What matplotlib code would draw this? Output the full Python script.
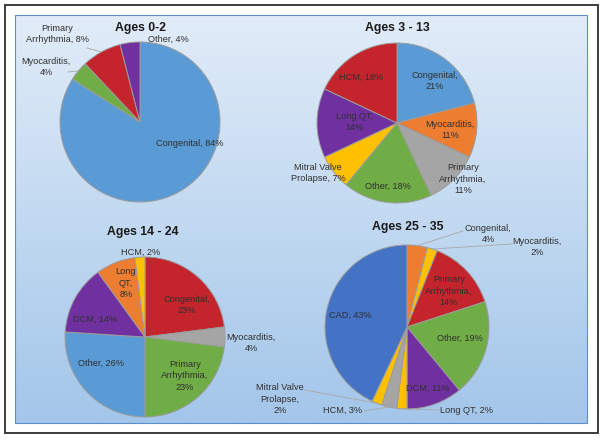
import textwrap
import numpy as np
import matplotlib.pyplot as plt
from matplotlib.patches import Rectangle

plt.rcParams['font.family'] = ['Liberation Sans', 'DejaVu Sans']

# ----------------------------------------------------------------
# Data
titles = ['Ages 0-2', 'Ages 3 - 13', 'Ages 14 - 24', 'Ages 25 - 35']

cats_0_2 = ['Congenital', 'Myocarditis', 'Primary Arrhythmia', 'Other']
vals_0_2 = [84, 4, 8, 4]

cats_3_13 = ['Congenital', 'Myocarditis', 'Primary Arrhythmia', 'Other',
             'Mitral Valve Prolapse', 'Long QT', 'HCM']
vals_3_13 = [21, 11, 11, 18, 7, 14, 18]

cats_14_24 = ['Congenital', 'Myocarditis', 'Primary Arrhythmia', 'Other',
              'DCM', 'Long QT', 'HCM']
vals_14_24 = [23, 4, 23, 26, 14, 8, 2]

cats_25_35 = ['Congenital', 'Myocarditis', 'Primary Arrhythmia', 'Other',
              'DCM', 'Long QT', 'HCM', 'Mitral Valve Prolapse', 'CAD']
vals_25_35 = [4, 2, 14, 19, 11, 2, 3, 2, 43]

# ----------------------------------------------------------------
# Styles / layout
BLUE, DKBLUE = '#5b9bd5', '#4472c4'
GREEN, RED, PURPLE = '#70ad47', '#c4242b', '#7030a0'
ORANGE, GREY, YELLOW = '#ed7d31', '#a5a5a5', '#ffc000'

cols = [
    [BLUE, GREEN, RED, PURPLE],
    [BLUE, ORANGE, GREY, GREEN, YELLOW, PURPLE, RED],
    [RED, GREY, GREEN, BLUE, PURPLE, ORANGE, YELLOW],
    [ORANGE, YELLOW, RED, GREEN, PURPLE, YELLOW, GREY, YELLOW, DKBLUE],
]

W, H = 604, 440
# pie centre x, centre y (pixels from top), radius
pies = [(140, 122, 80), (397, 123, 80), (145, 337, 80), (407, 327, 82)]
title_pos = [(140.5, 28), (397.5, 28), (143, 232), (408, 227)]

# label: x, y, wrap width, value on own line, leader start (or None)
labels = [
    [(190, 143, 20, False, None), (46, 67, 20, True, (68, 72)),
     (57, 34, 11, False, (87, 48)), (168, 39, 20, False, None)],
    [(435, 81, 20, True, None), (450, 130, 20, True, None),
     (463, 179, 11, True, None), (388, 186, 20, False, None),
     (318, 173, 12, False, None), (355, 122, 20, True, None),
     (361, 77, 20, False, None)],
    [(187, 305, 20, True, None), (251, 343, 20, True, None),
     (185, 376, 11, True, None), (101, 363, 20, False, None),
     (95, 319, 20, False, None), (126, 283, 5, True, None),
     (141, 252, 20, False, None)],
    [(488, 234, 20, True, (463, 231)), (537, 247, 20, True, (512, 244)),
     (449, 291, 11, True, None), (460, 338, 20, False, None),
     (428, 388, 20, False, None), (466, 410, 20, False, (440, 410)),
     (343, 410, 20, False, (364, 411)), (280, 399, 12, True, (305, 390)),
     (350, 315, 20, False, None)],
]

data = [(cats_0_2, vals_0_2), (cats_3_13, vals_3_13),
        (cats_14_24, vals_14_24), (cats_25_35, vals_25_35)]


def Y(y):
    return H - y


fig = plt.figure(figsize=(6.04, 4.40), dpi=100)
ax = fig.add_axes([0, 0, 1, 1])

# frame and gradient panel
ax.add_patch(Rectangle((5, Y(433)), 593, 428, facecolor='white',
                       edgecolor='#3c3c3c', lw=1.4, zorder=0))
top = np.array([225, 236, 248]) / 255
bot = np.array([163, 198, 234]) / 255
g = np.linspace(0, 1, 256)[:, None, None]
img = top + (bot - top) * g
ax.imshow(img, extent=[15, 587, Y(423), Y(15)], aspect='auto',
          origin='upper', zorder=1)
ax.add_patch(Rectangle((15, Y(423)), 572, 408, fill=False,
                       edgecolor='#5d8fca', lw=0.8, zorder=2))

for i, (cats, vals) in enumerate(data):
    cx, cy, r = pies[i]
    ax.pie(vals, colors=cols[i], startangle=90, counterclock=False,
           center=(cx, Y(cy)), radius=r, frame=True,
           wedgeprops=dict(edgecolor='#9c9c9c', linewidth=0.7, zorder=3))
    tx, ty = title_pos[i]
    ax.text(tx, Y(ty), titles[i], ha='center', va='center', fontsize=8.8,
            fontweight='bold', color='#1a1a1a', zorder=5)

    total = float(sum(vals))
    cum = 0.0
    for c, v, lab in zip(cats, vals, labels[i]):
        lx, ly, wrap, nl, lead = lab
        text = textwrap.fill(c + ',', wrap) + ('\n' if nl else ' ') + f'{v}%'
        ax.text(lx, Y(ly), text, ha='center', va='center', fontsize=6.6,
                color='#303030', linespacing=1.3, zorder=5)
        mid = np.deg2rad(90 - 360 * (cum + v / 2) / total)
        if lead is not None:
            ex = cx + r * np.cos(mid)
            ey = cy - r * np.sin(mid)
            ax.plot([lead[0], ex], [Y(lead[1]), Y(ey)], color='#a8a8a8',
                    lw=0.6, zorder=4)
        cum += v

ax.set_xlim(0, W)
ax.set_ylim(0, H)
ax.axis('off')

plt.savefig('out.png', dpi=100)
